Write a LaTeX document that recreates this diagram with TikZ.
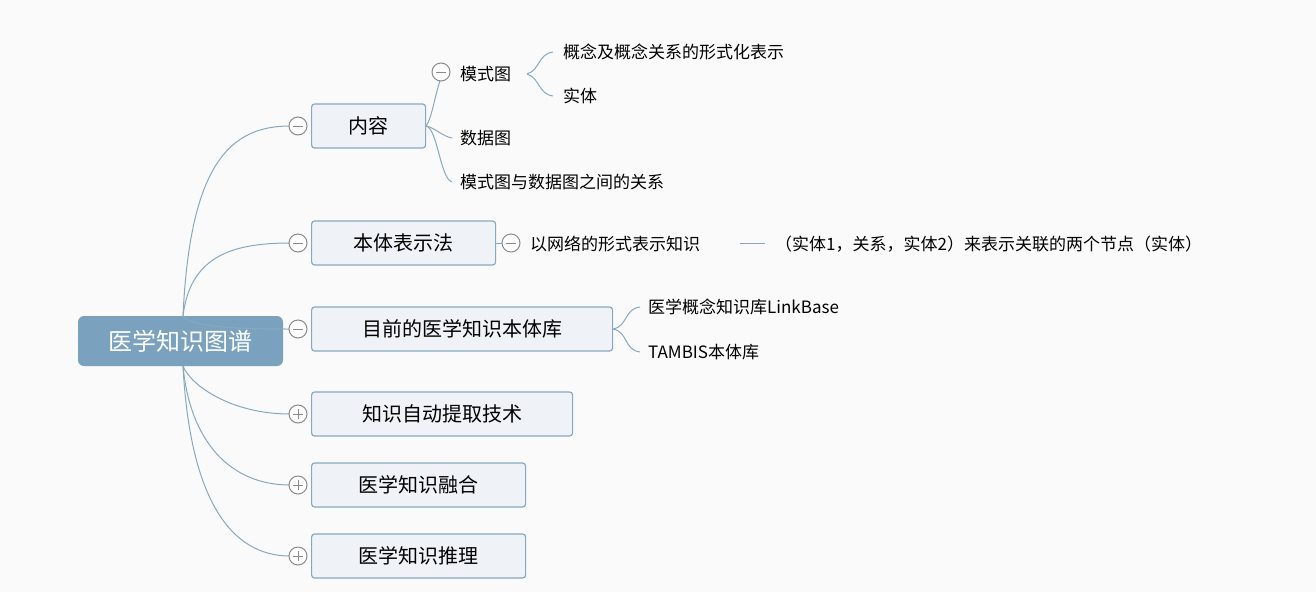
\documentclass[tikz,border=0pt]{standalone}
\usepackage{fontspec}
\setmainfont{Noto Sans CJK SC}
\definecolor{rootblue}{HTML}{7AA2BF}
\definecolor{linkblue}{HTML}{88A8C0}
\definecolor{boxfill}{HTML}{EFF3F7}
\definecolor{knobgray}{HTML}{8A8A8A}
\tikzset{
  topic/.style={draw=linkblue,fill=boxfill,line width=1.2pt,rounded corners=3pt,
    minimum height=44pt,anchor=west,font=\fontsize{20}{20}\selectfont,inner xsep=0pt},
  sub/.style={anchor=west,font=\fontsize{17}{17}\selectfont,inner sep=0pt},
  link/.style={draw=linkblue,line width=1pt},
  knob/.style={circle,draw=knobgray,fill=white,line width=1pt,minimum size=18pt,inner sep=0pt}
}
\newcommand{\minusknob}[2]{\node[knob] (#1) at #2 {};
  \draw[knobgray,line width=1pt] ([xshift=-5pt]#1.center) -- ([xshift=5pt]#1.center);}
\newcommand{\plusknob}[2]{\node[knob] (#1) at #2 {};
  \draw[knobgray,line width=1pt] ([xshift=-5pt]#1.center) -- ([xshift=5pt]#1.center)
    ([yshift=-5pt]#1.center) -- ([yshift=5pt]#1.center);}
\begin{document}
\begin{tikzpicture}[x=1pt,y=-1pt]
\fill[white!98!black] (0,0) rectangle (1316,592);
\useasboundingbox (0,0) rectangle (1316,592);
% root
\node[draw=none,fill=rootblue,rounded corners=6pt,minimum width=205pt,minimum height=50pt,
  text=white,font=\fontsize{24}{24}\selectfont] (root) at (180.5,341) {医学知识图谱};
% main topics
\node[topic,minimum width=114pt] (content) at (311,126) {内容};
\node[topic,minimum width=184pt] (ontology) at (311,243) {本体表示法};
\node[topic,minimum width=301pt] (library) at (311,329) {目前的医学知识本体库};
\node[topic,minimum width=261pt] (extract) at (311,414) {知识自动提取技术};
\node[topic,minimum width=214pt] (fusion) at (311,485) {医学知识融合};
\node[topic,minimum width=214pt] (reason) at (311,556) {医学知识推理};
% branches from root
\foreach \t/\y in {content/126,ontology/243,library/329,extract/414,fusion/485,reason/556}{
  \ifnum\y<341
    \draw[link] (183,316) .. controls (190,{\y+(316-\y)*0.2}) and (230,\y) .. (290,\y);
  \else
    \draw[link] (183,366) .. controls (190,{\y-(\y-366)*0.2-20}) and (230,\y) .. (290,\y);
  \fi
}
\minusknob{k1}{(298,126)}
\minusknob{k2}{(298,243)}
\minusknob{k3}{(298,329)}
\plusknob{k4}{(298,414)}
\plusknob{k5}{(298,485)}
\plusknob{k6}{(298,556)}
% content subtopics
\node[sub] (schema) at (460,74) {模式图};
\node[sub] (datag) at (460,138) {数据图};
\node[sub] (relg) at (460,182) {模式图与数据图之间的关系};
\draw[link] (content.east) .. controls (432,118) and (436,90) .. (441,78);
\draw[link] (content.east) .. controls (435,128) and (442,136) .. (452,138);
\draw[link] (content.east) .. controls (438,130) and (440,178) .. (452,182);
\minusknob{k7}{(441,72)}
\node[sub] (formal) at (563,52) {概念及概念关系的形式化表示};
\node[sub] (entity) at (563,96) {实体};
\draw[link] (527,74) .. controls (540,70) and (538,54) .. (553,52);
\draw[link] (527,74) .. controls (540,78) and (538,94) .. (553,96);
% ontology subtopics
\node[sub] (network) at (530,244) {以网络的形式表示知识};
\draw[link] (ontology.east) -- (502,243);
\minusknob{k8}{(511,243)}
\node[sub] (triple) at (775,244) {（实体1，关系，实体2）来表示关联的两个节点（实体）};
\draw[link] (740,243) -- (765,243);
% library subtopics
\node[sub] (linkbase) at (648,307) {医学概念知识库LinkBase};
\node[sub] (tambis) at (648,352) {TAMBIS本体库};
\draw[link] (library.east) .. controls (628,326) and (624,309) .. (640,307);
\draw[link] (library.east) .. controls (628,332) and (624,350) .. (640,352);
\end{tikzpicture}
\end{document}
